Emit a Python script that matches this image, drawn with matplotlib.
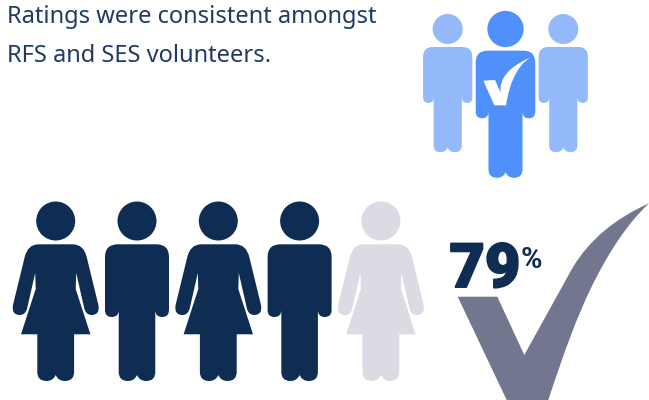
import matplotlib
matplotlib.use("Agg")
import matplotlib.pyplot as plt
import matplotlib.patheffects as pe
from matplotlib.path import Path
from matplotlib.patches import PathPatch, Circle

# Values shown by the pictogram
headline_lines = ["Ratings were consistent amongst", "RFS and SES volunteers."]
row_kinds = ["woman", "man", "woman", "man", "woman"]
row_filled = 4
share_label = "79"
share_unit = "%"

NAVY = "#0f2d52"
PALE = "#dadbe3"
LIGHT_BLUE = "#94b9fb"
BLUE = "#5090fb"
SLATE = "#72768f"
TEXT = "#1f3b62"


def trace(start, segments):
    """Build a closed path from line (2 numbers) and quadratic (4 numbers) segments."""
    verts, codes = [start], [Path.MOVETO]
    for s in segments:
        if len(s) == 2:
            verts.append(s)
            codes.append(Path.LINETO)
        else:
            verts += [s[:2], s[2:]]
            codes += [Path.CURVE3, Path.CURVE3]
    verts.append(start)
    codes.append(Path.CLOSEPOLY)
    return Path(verts, codes)


MAN = trace((-19, 23.3), [
    (19, 23.3), (32, 23.3, 32, 36), (32, 89), (32, 96, 25.2, 96), (18.3, 96, 18.3, 89),
    (18.3, 151), (18.3, 160, 9.2, 160), (2.5, 160, 0, 154), (-2.5, 160, -9.2, 160),
    (-18.3, 160, -18.3, 151), (-18.3, 89), (-18.3, 96, -25.2, 96), (-32, 96, -32, 89),
    (-32, 36), (-32, 23.3, -19, 23.3),
])

WOMAN = trace((-17, 23.3), [
    (17, 23.3), (28, 23.3, 31, 36), (42.7, 84), (44.5, 94, 36, 94), (30, 94, 28.5, 87),
    (20.5, 52), (20, 68), (34.7, 113.3), (18.4, 113.3), (18.4, 151), (18.4, 160, 9.2, 160),
    (2.5, 160, 0, 154), (-2.5, 160, -9.2, 160), (-18.4, 160, -18.4, 151), (-18.4, 113.3),
    (-34.7, 113.3), (-20, 68), (-20.5, 52), (-28.5, 87), (-30, 94, -36, 94),
    (-44.5, 94, -42.7, 84), (-31, 36), (-28, 23.3, -17, 23.3),
])


def person(ax, kind, cx, cy, scale, color):
    """Draw a head and body; (cx, cy) is the centre of the head."""
    ax.add_patch(Circle((cx, cy), 19.5 * scale, fc=color, ec="none"))
    template = MAN if kind == "man" else WOMAN
    body = Path(template.vertices * scale + (cx, cy), template.codes)
    ax.add_patch(PathPatch(body, fc=color, ec="none"))


fig = plt.figure(figsize=(6.49, 4.0), dpi=100, facecolor="white")
ax = fig.add_axes([0, 0, 1, 1])
ax.set_xlim(0, 649)
ax.set_ylim(400, 0)
ax.axis("off")

# Two-line statement
for line, y in zip(headline_lines, (17, 56)):
    ax.text(7, y, line, family="Noto Sans", fontsize=17.05, color=TEXT, va="center", ha="left")

# Group of three with the ticked centre figure
person(ax, "man", 447.7, 29, 0.77, LIGHT_BLUE)
person(ax, "man", 563.3, 29, 0.77, LIGHT_BLUE)
person(ax, "man", 505.5, 29, 0.93, BLUE)
ax.add_patch(PathPatch(trace((483.3, 80.7), [
    (495, 80), (500.7, 92.7), (497.7, 71.7, 530.7, 57.3), (511.7, 68.7, 506, 105.3), (494.3, 105.3),
]), fc="white", ec="none"))

# Row of five figures, the filled ones in navy
for i, kind in enumerate(row_kinds):
    person(ax, kind, 55.7 + i * 81.3, 221, 1.0, NAVY if i < row_filled else PALE)

# Large tick behind the share label
ax.add_patch(PathPatch(trace((457.7, 296.7), [
    (497.3, 296.7), (524.3, 355), (573, 267), (598, 226, 649, 203.3),
    (618, 232, 590, 290), (572, 327, 548.3, 400), (506.7, 400),
]), fc=SLATE, ec="none", clip_on=True))

# A thin stroke thickens the large numerals
ax.text(449.5, 287, share_label, family="Roboto", weight="black", fontsize=44, color=NAVY,
        va="baseline", ha="left",
        path_effects=[pe.withStroke(linewidth=1.4, foreground=NAVY)])
ax.text(521, 268, share_unit, family="Roboto", weight="bold", fontsize=21, color=NAVY,
        va="baseline", ha="left")

fig.savefig("out.png", dpi=100)
